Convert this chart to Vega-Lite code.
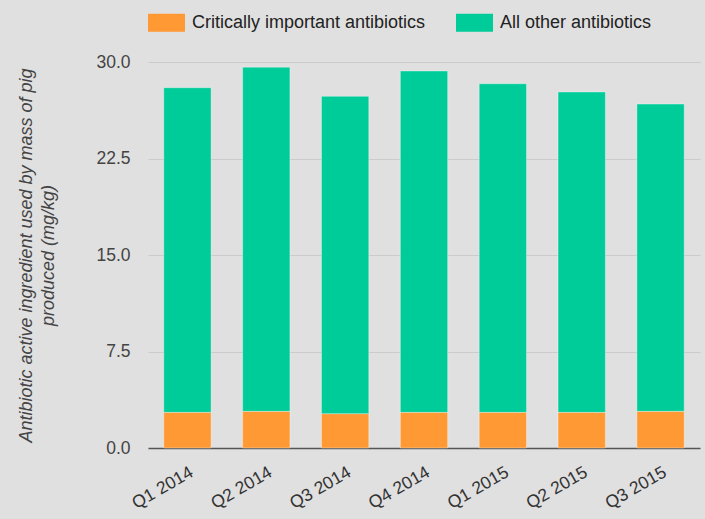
{
  "$schema": "https://vega.github.io/schema/vega-lite/v6.json",
  "autosize": "none",
  "width": 552,
  "height": 386,
  "padding": {"left": 148, "top": 62, "right": 5, "bottom": 71},
  "background": "#e0e0e0",
  "config": {
    "view": {"stroke": null},
    "font": "Liberation Sans",
    "axis": {"labelFont": "Liberation Sans", "titleFont": "Liberation Sans"},
    "legend": {"labelFont": "Liberation Sans"}
  },
  "data": {
    "values": [
      {"quarter": "Q1 2014", "type": "Critically important antibiotics", "value": 2.77, "ord": 1},
      {"quarter": "Q1 2014", "type": "All other antibiotics", "value": 25.23, "ord": 2},
      {"quarter": "Q2 2014", "type": "Critically important antibiotics", "value": 2.85, "ord": 1},
      {"quarter": "Q2 2014", "type": "All other antibiotics", "value": 26.75, "ord": 2},
      {"quarter": "Q3 2014", "type": "Critically important antibiotics", "value": 2.67, "ord": 1},
      {"quarter": "Q3 2014", "type": "All other antibiotics", "value": 24.66, "ord": 2},
      {"quarter": "Q4 2014", "type": "Critically important antibiotics", "value": 2.77, "ord": 1},
      {"quarter": "Q4 2014", "type": "All other antibiotics", "value": 26.53, "ord": 2},
      {"quarter": "Q1 2015", "type": "Critically important antibiotics", "value": 2.77, "ord": 1},
      {"quarter": "Q1 2015", "type": "All other antibiotics", "value": 25.54, "ord": 2},
      {"quarter": "Q2 2015", "type": "Critically important antibiotics", "value": 2.77, "ord": 1},
      {"quarter": "Q2 2015", "type": "All other antibiotics", "value": 24.9, "ord": 2},
      {"quarter": "Q3 2015", "type": "Critically important antibiotics", "value": 2.85, "ord": 1},
      {"quarter": "Q3 2015", "type": "All other antibiotics", "value": 23.88, "ord": 2}
    ]
  },
  "mark": {"type": "bar", "stroke": "#ffffff", "strokeOpacity": 0.35, "strokeWidth": 1},
  "encoding": {
    "x": {
      "field": "quarter",
      "type": "nominal",
      "sort": null,
      "scale": {"paddingInner": 0.4, "paddingOuter": 0.2},
      "axis": {
        "title": null,
        "labelAngle": -30,
        "labelAlign": "right",
        "labelBaseline": "top",
        "labelPadding": 15,
        "labelFontSize": 17.5,
        "labelColor": "#333333",
        "ticks": false,
        "domainColor": "#555555",
        "domainWidth": 1.5
      }
    },
    "y": {
      "field": "value",
      "type": "quantitative",
      "stack": "zero",
      "scale": {"domain": [0, 30], "nice": false},
      "axis": {
        "values": [0, 7.5, 15, 22.5, 30],
        "format": ".1f",
        "title": ["Antibiotic active ingredient used by mass of pig", "produced (mg/kg)"],
        "titleFontStyle": "italic",
        "titleFontWeight": "normal",
        "titleFontSize": 18,
        "titleColor": "#444444",
        "titleLineHeight": 22,
        "titleX": -113,
        "titleY": 193,
        "titleAngle": -90,
        "titleAlign": "center",
        "titleBaseline": "bottom",
        "labelFontSize": 17.5,
        "labelColor": "#444444",
        "labelPadding": 18,
        "ticks": false,
        "domain": false,
        "gridColor": "#cbcbcb",
        "gridWidth": 1
      }
    },
    "color": {
      "field": "type",
      "type": "nominal",
      "scale": {
        "domain": ["Critically important antibiotics", "All other antibiotics"],
        "range": ["#ff9933", "#00cc99"]
      },
      "legend": {
        "title": null,
        "orient": "none",
        "direction": "horizontal",
        "legendX": 0,
        "legendY": -58,
        "padding": 0,
        "symbolType": "M-1,-0.48H1V0.48H-1Z",
        "symbolSize": 1369,
        "symbolStrokeWidth": 0,
        "symbolOpacity": 1,
        "labelFontSize": 18,
        "labelColor": "#222222",
        "labelOffset": 7,
        "columnPadding": 30,
        "labelLimit": 400
      }
    },
    "order": {"field": "ord", "type": "quantitative"}
  }
}
